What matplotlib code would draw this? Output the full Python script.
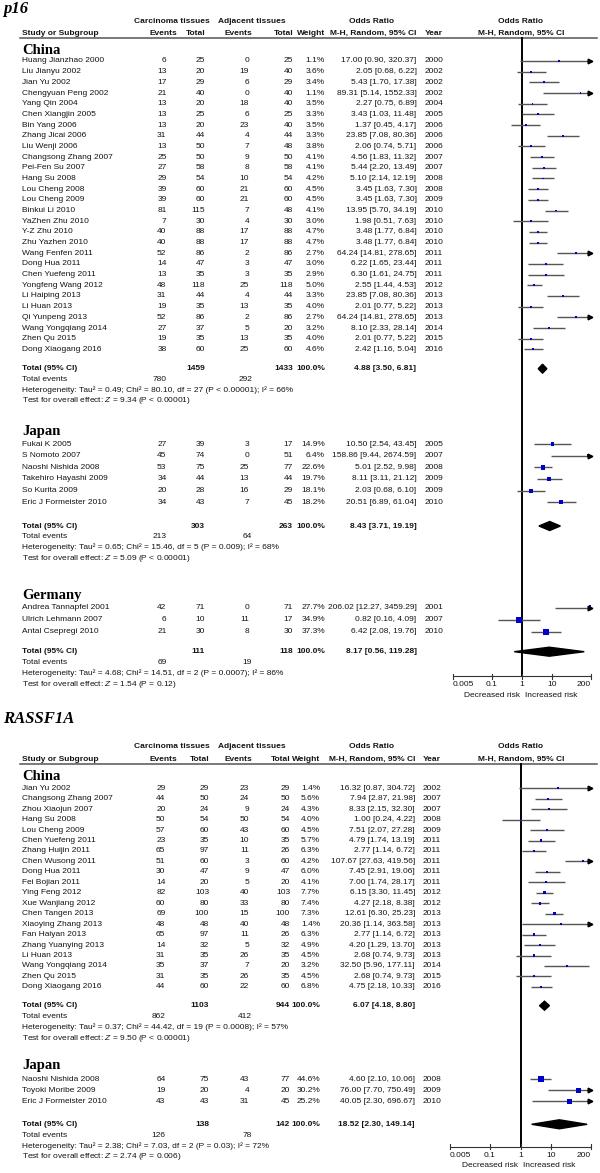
import numpy as np
import matplotlib.pyplot as plt
from matplotlib.patches import Polygon

# ---------------- data: p16 ----------------
p16_cn_study = ['Huang Jianzhao 2000', 'Liu Jianyu 2002', 'Jian Yu 2002', 'Chengyuan Peng 2002', 'Yang Qin 2004',
                'Chen Xiangjin 2005', 'Bin Yang 2006', 'Zhang Jicai 2006', 'Liu Wenji 2006', 'Changsong Zhang 2007',
                'Pei-Fen Su 2007', 'Hang Su 2008', 'Lou Cheng 2008', 'Lou Cheng 2009', 'Binkui Li 2010',
                'YaZhen Zhu 2010', 'Y-Z Zhu 2010', 'Zhu Yazhen 2010', 'Wang Fenfen 2011', 'Dong Hua 2011',
                'Chen Yuefeng 2011', 'Yongfeng Wang 2012', 'Li Haiping 2013', 'Li Huan 2013', 'Qi Yunpeng 2013',
                'Wang Yongqiang 2014', 'Zhen Qu 2015', 'Dong Xiaogang 2016']
p16_cn_ev_ca = [6, 13, 17, 21, 13, 13, 13, 31, 13, 25, 27, 29, 39, 39, 81, 7, 40, 40, 52, 14, 13, 48, 31, 19, 52, 27, 19, 38]
p16_cn_tot_ca = [25, 20, 29, 40, 20, 25, 20, 44, 50, 50, 58, 54, 60, 60, 115, 30, 88, 88, 86, 47, 35, 118, 44, 35, 86, 37, 35, 60]
p16_cn_ev_adj = [0, 19, 6, 0, 18, 6, 23, 4, 7, 9, 8, 10, 21, 21, 7, 4, 17, 17, 2, 3, 3, 25, 4, 13, 2, 5, 13, 25]
p16_cn_tot_adj = [25, 40, 29, 40, 40, 25, 40, 44, 48, 50, 58, 54, 60, 60, 48, 30, 88, 88, 86, 47, 35, 118, 44, 35, 86, 20, 35, 60]
p16_cn_weight = [1.1, 3.6, 3.4, 1.1, 3.5, 3.3, 3.5, 3.3, 3.8, 4.1, 4.1, 4.2, 4.5, 4.5, 4.1, 3.0, 4.7, 4.7, 2.7, 3.0,
                 2.9, 5.0, 3.3, 4.0, 2.7, 3.2, 4.0, 4.6]
p16_cn_or = [17.00, 2.05, 5.43, 89.31, 2.27, 3.43, 1.37, 23.85, 2.06, 4.56, 5.44, 5.10, 3.45, 3.45, 13.95, 1.98, 3.48,
             3.48, 64.24, 6.22, 6.30, 2.55, 23.85, 2.01, 64.24, 8.10, 2.01, 2.42]
p16_cn_lo = [0.90, 0.68, 1.70, 5.14, 0.75, 1.03, 0.45, 7.08, 0.74, 1.83, 2.20, 2.14, 1.63, 1.63, 5.70, 0.51, 1.77, 1.77,
             14.81, 1.65, 1.61, 1.44, 7.08, 0.77, 14.81, 2.33, 0.77, 1.16]
p16_cn_hi = [320.37, 6.22, 17.38, 1552.33, 6.89, 11.48, 4.17, 80.36, 5.71, 11.32, 13.49, 12.19, 7.30, 7.30, 34.19, 7.63,
             6.84, 6.84, 278.65, 23.44, 24.75, 4.53, 80.36, 5.22, 278.65, 28.14, 5.22, 5.04]
p16_cn_year = [2000, 2002, 2002, 2002, 2004, 2005, 2006, 2006, 2006, 2007, 2007, 2008, 2008, 2009, 2010, 2010, 2010, 2010,
               2011, 2011, 2011, 2012, 2013, 2013, 2013, 2014, 2015, 2016]
p16_cn_total = [1459, 1433, 4.88, 3.50, 6.81]
p16_cn_events = [780, 292]
p16_cn_het = 'Heterogeneity: Tau² = 0.49; Chi² = 80.10, df = 27 (P < 0.00001); I² = 66%'
p16_cn_test = 'Test for overall effect: $Z$ = 9.34 (P < 0.00001)'

p16_jp_study = ['Fukai K 2005', 'S Nomoto 2007', 'Naoshi Nishida 2008', 'Takehiro Hayashi 2009', 'So Kurita 2009',
                'Eric J Formeister 2010']
p16_jp_ev_ca = [27, 45, 53, 34, 20, 34]
p16_jp_tot_ca = [39, 74, 75, 44, 28, 43]
p16_jp_ev_adj = [3, 0, 25, 13, 16, 7]
p16_jp_tot_adj = [17, 51, 77, 44, 29, 45]
p16_jp_weight = [14.9, 6.4, 22.6, 19.7, 18.1, 18.2]
p16_jp_or = [10.50, 158.86, 5.01, 8.11, 2.03, 20.51]
p16_jp_lo = [2.54, 9.44, 2.52, 3.11, 0.68, 6.89]
p16_jp_hi = [43.45, 2674.59, 9.98, 21.12, 6.10, 61.04]
p16_jp_year = [2005, 2007, 2008, 2009, 2009, 2010]
p16_jp_total = [303, 263, 8.43, 3.71, 19.19]
p16_jp_events = [213, 64]
p16_jp_het = 'Heterogeneity: Tau² = 0.65; Chi² = 15.46, df = 5 (P = 0.009); I² = 68%'
p16_jp_test = 'Test for overall effect: $Z$ = 5.09 (P < 0.00001)'

p16_de_study = ['Andrea Tannapfel 2001', 'Ulrich Lehmann 2007', 'Antal Csepregi 2010']
p16_de_ev_ca = [42, 6, 21]
p16_de_tot_ca = [71, 10, 30]
p16_de_ev_adj = [0, 11, 8]
p16_de_tot_adj = [71, 17, 30]
p16_de_weight = [27.7, 34.9, 37.3]
p16_de_or = [206.02, 0.82, 6.42]
p16_de_lo = [12.27, 0.16, 2.08]
p16_de_hi = [3459.29, 4.09, 19.76]
p16_de_year = [2001, 2007, 2010]
p16_de_total = [111, 118, 8.17, 0.56, 119.28]
p16_de_events = [69, 19]
p16_de_het = 'Heterogeneity: Tau² = 4.68; Chi² = 14.51, df = 2 (P = 0.0007); I² = 86%'
p16_de_test = 'Test for overall effect: $Z$ = 1.54 (P = 0.12)'

# ---------------- data: RASSF1A ----------------
ras_cn_study = ['Jian Yu 2002', 'Changsong Zhang 2007', 'Zhou Xiaojun 2007', 'Hang Su 2008', 'Lou Cheng 2009',
                'Chen Yuefeng 2011', 'Zhang Huijin 2011', 'Chen Wusong 2011', 'Dong Hua 2011', 'Fei Bojian 2011',
                'Ying Feng 2012', 'Xue Wanjiang 2012', 'Chen Tangen 2013', 'Xiaoying Zhang 2013', 'Fan Haiyan 2013',
                'Zhang Yuanying 2013', 'Li Huan 2013', 'Wang Yongqiang 2014', 'Zhen Qu 2015', 'Dong Xiaogang 2016']
ras_cn_ev_ca = [29, 44, 20, 50, 57, 23, 65, 51, 30, 14, 82, 60, 69, 48, 65, 14, 31, 35, 31, 44]
ras_cn_tot_ca = [29, 50, 24, 54, 60, 35, 97, 60, 47, 20, 103, 80, 100, 48, 97, 32, 35, 37, 35, 60]
ras_cn_ev_adj = [23, 24, 9, 50, 43, 10, 11, 3, 9, 5, 40, 33, 15, 40, 11, 5, 26, 7, 26, 22]
ras_cn_tot_adj = [29, 50, 24, 54, 60, 35, 26, 60, 47, 20, 103, 80, 100, 48, 26, 32, 35, 20, 35, 60]
ras_cn_weight = [1.4, 5.6, 4.3, 4.0, 4.5, 5.7, 6.3, 4.2, 6.0, 4.1, 7.7, 7.4, 7.3, 1.4, 6.3, 4.9, 4.5, 3.2, 4.5, 6.8]
ras_cn_or = [16.32, 7.94, 8.33, 1.00, 7.51, 4.79, 2.77, 107.67, 7.45, 7.00, 6.15, 4.27, 12.61, 20.36, 2.77, 4.20, 2.68,
             32.50, 2.68, 4.75]
ras_cn_lo = [0.87, 2.87, 2.15, 0.24, 2.07, 1.74, 1.14, 27.63, 2.91, 1.74, 3.30, 2.18, 6.30, 1.14, 1.14, 1.29, 0.74, 5.96,
             0.74, 2.18]
ras_cn_hi = [304.72, 21.98, 32.30, 4.22, 27.28, 13.19, 6.72, 419.56, 19.06, 28.17, 11.45, 8.38, 25.23, 363.58, 6.72,
             13.70, 9.73, 177.11, 9.73, 10.33]
ras_cn_year = [2002, 2007, 2007, 2008, 2009, 2011, 2011, 2011, 2011, 2011, 2012, 2012, 2013, 2013, 2013, 2013, 2013,
               2014, 2015, 2016]
ras_cn_total = [1103, 944, 6.07, 4.18, 8.80]
ras_cn_events = [862, 412]
ras_cn_het = 'Heterogeneity: Tau² = 0.37; Chi² = 44.42, df = 19 (P = 0.0008); I² = 57%'
ras_cn_test = 'Test for overall effect: $Z$ = 9.50 (P < 0.00001)'

ras_jp_study = ['Naoshi Nishida 2008', 'Toyoki Moribe 2009', 'Eric J Formeister 2010']
ras_jp_ev_ca = [64, 19, 43]
ras_jp_tot_ca = [75, 20, 43]
ras_jp_ev_adj = [43, 4, 31]
ras_jp_tot_adj = [77, 20, 45]
ras_jp_weight = [44.6, 30.2, 25.2]
ras_jp_or = [4.60, 76.00, 40.05]
ras_jp_lo = [2.10, 7.70, 2.30]
ras_jp_hi = [10.06, 750.49, 696.67]
ras_jp_year = [2008, 2009, 2010]
ras_jp_total = [138, 142, 18.52, 2.30, 149.14]
ras_jp_events = [126, 78]
ras_jp_het = 'Heterogeneity: Tau² = 2.38; Chi² = 7.03, df = 2 (P = 0.03); I² = 72%'
ras_jp_test = 'Test for overall effect: $Z$ = 2.74 (P = 0.006)'

ticks = [0.005, 0.1, 1, 10, 200]
tick_labels = ['0.005', '0.1', '1', '10', '200']

# ---------------- styles ----------------
W, H = 600, 1173
FS = 6.0
TXT = '#141414'
SANS = 'Liberation Sans'
SERIF = 'Liberation Serif'
BLUE = '#0000cc'
XMIN, XMAX = 0.005, 200

plt.rcParams['mathtext.fontset'] = 'custom'
plt.rcParams['mathtext.rm'] = 'Liberation Sans'
plt.rcParams['mathtext.it'] = 'Liberation Sans:italic'

fig = plt.figure(figsize=(W / 100, H / 100), dpi=100)
ax = fig.add_axes([0, 0, 1, 1])
ax.set_xlim(0, W)
ax.set_ylim(H, 0)
ax.axis('off')


def txt(x, y, s, ha='left', bold=False, size=FS, **kw):
    ax.text(x, y, s, ha=ha, va='center', fontsize=size, family=SANS, color=TXT,
            fontweight='bold' if bold else 'normal', **kw)


def forest_axes(x0, x1):
    fa = fig.add_axes([x0 / W, 0, (x1 - x0) / W, 1])
    fa.set_xscale('log')
    fa.set_xlim(XMIN, XMAX)
    fa.set_ylim(H, 0)
    fa.axis('off')
    return fa


def header(cols, y_title, title, y1, y2, yl):
    ax.text(3, y_title, title, ha='left', va='center', fontsize=12, family=SERIF,
            fontweight='bold', style='italic', color='black')
    txt(171.7, y1, 'Carcinoma tissues', 'center', True)
    txt(252, y1, 'Adjacent tissues', 'center', True)
    txt(371.7, y1, 'Odds Ratio', 'center', True)
    txt(521, y1, 'Odds Ratio', 'center', True)
    txt(22, y2, 'Study or Subgroup', bold=True)
    txt(177, y2, 'Events', 'right', True)
    txt(cols['tot1'], y2, 'Total', 'right', True)
    txt(252, y2, 'Events', 'right', True)
    txt(cols['tot2'], y2, 'Total', 'right', True)
    txt(cols['wt'], y2, 'Weight', 'right', True)
    txt(cols['orr'], y2, 'M-H, Random, 95% CI', 'right', True)
    txt(cols['yr'], y2, 'Year', bold=True)
    txt(521, y2, 'M-H, Random, 95% CI', 'center', True)
    ax.plot([20, 597], [yl, yl], color='#555555', lw=1.1)


def subgroup(cols, fa, name, y_head, y0, pitch, y_tot, study, e1, t1, e2, t2, wt, orv, lo, hi, yr,
             total, events, het, test):
    ax.text(22, y_head, name, ha='left', va='center', fontsize=10.5, family=SERIF,
            fontweight='bold', color='black')
    ys = y0 + pitch * np.arange(len(study))
    for i, y in enumerate(ys):
        txt(cols['name'], y, study[i])
        txt(cols['ev1'], y, str(e1[i]), 'right')
        txt(cols['tot1'], y, str(t1[i]), 'right')
        txt(cols['ev2'], y, str(e2[i]), 'right')
        txt(cols['tot2'], y, str(t2[i]), 'right')
        txt(cols['wt'], y, f'{wt[i]:.1f}%', 'right')
        txt(cols['orr'], y, f'{orv[i]:.2f} [{lo[i]:.2f}, {hi[i]:.2f}]', 'right')
        txt(cols['yr'], y, str(yr[i]))
    # forest marks
    fa.hlines(ys, lo, hi, color='#555555', lw=1.0, zorder=2)
    side = np.maximum(1.9, 0.95 * np.sqrt(wt)) * 0.72
    fa.scatter(orv, ys, marker='s', s=side ** 2, color=BLUE, linewidths=0, zorder=3)
    over = np.array(hi) > XMAX
    if over.any():
        fa.plot(np.full(over.sum(), XMAX * 0.93), ys[over], ls='none', marker='>', ms=3.4,
                color='black', clip_on=False, zorder=4)
    # total row
    txt(cols['name'], y_tot, 'Total (95% CI)', bold=True)
    txt(cols['tot1'], y_tot, str(total[0]), 'right', True)
    txt(cols['tot2'], y_tot, str(total[1]), 'right', True)
    txt(cols['wt'], y_tot, '100.0%', 'right', True)
    txt(cols['orr'], y_tot, f'{total[2]:.2f} [{total[3]:.2f}, {total[4]:.2f}]', 'right', True)
    h = 4.5
    fa.add_patch(Polygon([(total[3], y_tot), (total[2], y_tot - h), (total[4], y_tot), (total[2], y_tot + h)],
                         closed=True, color='black', zorder=3))
    txt(cols['name'], y_tot + 10.8, 'Total events')
    txt(cols['ev1'], y_tot + 10.8, str(events[0]), 'right')
    txt(252, y_tot + 10.8, str(events[1]), 'right')
    txt(cols['name'], y_tot + 21.6, het)
    txt(cols['name'], y_tot + 32.3, test)


def axis_block(fa, y_top, y_ax, y_lab, y_risk):
    fa.plot([1, 1], [y_top, y_ax], color='black', lw=1.4, zorder=1)
    fa.plot([XMIN, XMAX], [y_ax, y_ax], color='#333333', lw=0.8)
    for t, lab in zip(ticks, tick_labels):
        fa.plot([t, t], [y_ax - 2.5, y_ax + 2.5], color='#333333', lw=0.8, clip_on=False)
        ha = 'left' if t == XMIN else ('right' if t == XMAX else 'center')
        fa.text(t, y_lab, lab, ha=ha, va='center', fontsize=FS, family=SANS, color=TXT)
    fa.text(0.85, y_risk, 'Decreased risk', ha='right', va='center', fontsize=FS, family=SANS, color=TXT)
    fa.text(1.25, y_risk, 'Increased risk', ha='left', va='center', fontsize=FS, family=SANS, color=TXT)


# ---------------- p16 panel ----------------
cols_p16 = dict(name=22, ev1=166.5, tot1=205, ev2=249, tot2=293, wt=325, orr=416.5, yr=425)
fa1 = forest_axes(452.7, 591.0)
header(cols_p16, 9, 'p16', 21.7, 33.3, 38.3)
subgroup(cols_p16, fa1, 'China', 51, 61, 10.68, 368.7, p16_cn_study, p16_cn_ev_ca, p16_cn_tot_ca, p16_cn_ev_adj,
         p16_cn_tot_adj, p16_cn_weight, p16_cn_or, p16_cn_lo, p16_cn_hi, p16_cn_year, p16_cn_total,
         p16_cn_events, p16_cn_het, p16_cn_test)
subgroup(cols_p16, fa1, 'Japan', 431, 444, 11.65, 526, p16_jp_study, p16_jp_ev_ca, p16_jp_tot_ca, p16_jp_ev_adj,
         p16_jp_tot_adj, p16_jp_weight, p16_jp_or, p16_jp_lo, p16_jp_hi, p16_jp_year, p16_jp_total,
         p16_jp_events, p16_jp_het, p16_jp_test)
subgroup(cols_p16, fa1, 'Germany', 595, 607.7, 12.0, 651.7, p16_de_study, p16_de_ev_ca, p16_de_tot_ca,
         p16_de_ev_adj, p16_de_tot_adj, p16_de_weight, p16_de_or, p16_de_lo, p16_de_hi, p16_de_year,
         p16_de_total, p16_de_events, p16_de_het, p16_de_test)
axis_block(fa1, 38.3, 676, 685, 695.7)

# ---------------- RASSF1A panel ----------------
cols_ras = dict(name=22, ev1=165.5, tot1=209, ev2=249, tot2=290, wt=320, orr=415, yr=423)
fa2 = forest_axes(450.0, 591.0)
header(cols_ras, 719, 'RASSF1A', 746.7, 759.3, 763.5)
subgroup(cols_ras, fa2, 'China', 776, 788.3, 10.45, 1005.7, ras_cn_study, ras_cn_ev_ca, ras_cn_tot_ca,
         ras_cn_ev_adj, ras_cn_tot_adj, ras_cn_weight, ras_cn_or, ras_cn_lo, ras_cn_hi, ras_cn_year,
         ras_cn_total, ras_cn_events, ras_cn_het, ras_cn_test)
subgroup(cols_ras, fa2, 'Japan', 1066, 1079.3, 11.0, 1124.3, ras_jp_study, ras_jp_ev_ca, ras_jp_tot_ca,
         ras_jp_ev_adj, ras_jp_tot_adj, ras_jp_weight, ras_jp_or, ras_jp_lo, ras_jp_hi, ras_jp_year,
         ras_jp_total, ras_jp_events, ras_jp_het, ras_jp_test)
axis_block(fa2, 763.5, 1146.7, 1155.7, 1165.7)

fig.savefig('out.png', dpi=100, facecolor='white')
